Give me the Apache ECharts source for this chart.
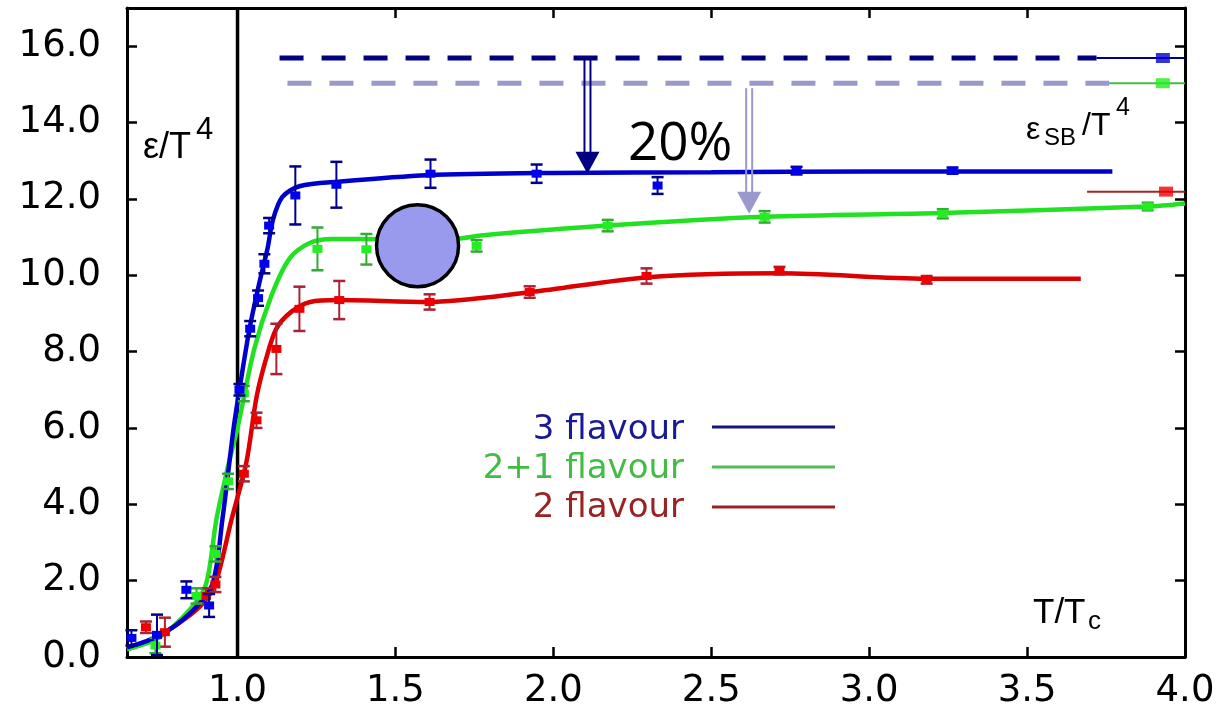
<!DOCTYPE html>
<html>
<head>
<meta charset="utf-8">
<script src="https://cdn.jsdelivr.net/npm/echarts@6/dist/echarts.min.js"></script>
<style>html,body{margin:0;padding:0;background:#fff;}#c{width:1219px;height:712px;}</style>
</head>
<body>
<div id="c"></div>
<script>
// ---- tick labels ----
const xTicks = [1.0, 1.5, 2.0, 2.5, 3.0, 3.5, 4.0];
const yTicks = [0, 2, 4, 6, 8, 10, 12, 14, 16];

// ---- fitted curves (T/Tc, eps/T^4) ----
const blueCurve = [[0.65,0.25],[0.75,0.55],[0.85,1.15],[0.92,1.9],[0.952,3.6],[0.987,5.96],[1.006,7.0],[1.038,8.6],[1.069,9.8],[1.095,10.7],[1.112,11.45],[1.142,12.05],[1.196,12.33],[1.32,12.45],[1.6,12.62],[2.0,12.68],[2.5,12.7],[3.0,12.72],[3.77,12.72]];
const greenCurve = [[0.65,0.2],[0.75,0.5],[0.85,1.25],[0.9,1.9],[0.933,3.6],[0.97,5.0],[1.0,6.0],[1.053,8.07],[1.107,9.46],[1.164,10.43],[1.23,10.85],[1.3,10.95],[1.41,10.95],[1.55,10.93],[1.7,10.96],[1.77,11.04],[2.17,11.3],[2.67,11.53],[3.23,11.63],[3.88,11.8],[4.0,11.88]];
const redCurve = [[0.65,0.2],[0.75,0.55],[0.85,1.1],[0.9,1.5],[0.933,2.0],[0.981,3.6],[1.028,5.1],[1.06,6.8],[1.09,7.8],[1.123,8.6],[1.17,9.04],[1.23,9.3],[1.32,9.35],[1.6,9.3],[1.93,9.56],[2.3,9.95],[2.72,10.05],[3.18,9.91],[3.67,9.91]];

// ---- lattice points [T/Tc, eps/T^4, error] ----
const bluePoints = [[0.664,0.5,0.2],[0.745,0.58,0.53],[0.838,1.76,0.22],[0.91,1.35,0.3],[1.006,7.0,0.15],[1.04,8.6,0.2],[1.065,9.4,0.2],[1.085,10.3,0.25],[1.1,11.3,0.2],[1.183,12.09,0.76],[1.313,12.37,0.6],[1.611,12.66,0.37],[1.947,12.66,0.24],[2.33,12.35,0.22],[2.77,12.74,0.1],[3.264,12.74,0.08]];
const greenPoints = [[0.74,0.3,0.2],[0.87,1.6,0.2],[0.93,2.7,0.2],[0.97,4.6,0.2],[1.02,6.9,0.2],[1.253,10.69,0.56],[1.408,10.68,0.4],[1.757,10.77,0.15],[2.172,11.3,0.15],[2.669,11.53,0.15],[3.233,11.61,0.12],[3.882,11.8,0.1]];
const redPoints = [[0.71,0.78,0.15],[0.77,0.65,0.38],[0.9,1.6,0.2],[0.93,1.9,0.2],[1.02,4.8,0.2],[1.06,6.2,0.2],[1.123,8.07,0.66],[1.196,9.12,0.58],[1.322,9.35,0.5],[1.608,9.3,0.2],[1.925,9.56,0.15],[2.295,9.98,0.2],[2.716,10.12,0.1],[3.182,9.88,0.1]];

// ---- Stefan-Boltzmann limits ----
const sbBlueDash = [[1.133,15.69],[3.72,15.69]];
const sbBlueLine = [[3.72,15.69],[4.0,15.69]];
const sbBlueMark = [[3.93,15.69]];
const sbGreenDash = [[1.158,15.03],[3.76,15.03]];
const sbGreenLine = [[3.76,15.03],[4.0,15.03]];
const sbGreenMark = [[3.93,15.03]];
const sbRedLine = [[3.69,12.19],[4.0,12.19]];
const sbRedMark = [[3.94,12.19]];

// ---- arrows [x, from, to] ----
const arrowDark = [[2.108,15.69,12.66]];
const arrowLight = [[2.62,14.9,11.61]];

// ---- highlighted circle ----
const circlePoint = [[1.57,10.77]];

const tcLine = [[1.0,0],[1.0,17]];

const chart = echarts.init(document.getElementById('c'), null, {renderer:'canvas'});

function errRender(barColor, markColor){
  return function(params, api){
    const x = api.value(0), y = api.value(1), e = api.value(2);
    const t = api.coord([x, y+e]), b = api.coord([x, y-e]), c = api.coord([x, y]);
    const cw = 6;
    return {type:'group', children:[
      {type:'line', shape:{x1:t[0],y1:t[1],x2:b[0],y2:b[1]}, style:{stroke:barColor,lineWidth:2}},
      {type:'line', shape:{x1:t[0]-cw,y1:t[1],x2:t[0]+cw,y2:t[1]}, style:{stroke:barColor,lineWidth:2.5}},
      {type:'line', shape:{x1:b[0]-cw,y1:b[1],x2:b[0]+cw,y2:b[1]}, style:{stroke:barColor,lineWidth:2.5}},
      {type:'rect', shape:{x:c[0]-5,y:c[1]-4,width:10,height:8}, style:{fill:markColor}}
    ]};
  };
}
function arrowRender(color){
  return function(params, api){
    const x = api.value(0), y0 = api.value(1), y1 = api.value(2);
    const s = api.coord([x, y0]), e = api.coord([x, y1]);
    const head = 22, hw = 12;
    return {type:'group', children:[
      {type:'line', shape:{x1:s[0]-3,y1:s[1],x2:e[0]-3,y2:e[1]-head+2}, style:{stroke:color,lineWidth:2}},
      {type:'line', shape:{x1:s[0]+3,y1:s[1],x2:e[0]+3,y2:e[1]-head+2}, style:{stroke:color,lineWidth:2}},
      {type:'polygon', shape:{points:[[e[0]-hw,e[1]-head],[e[0]+hw,e[1]-head],[e[0],e[1]]]}, style:{fill:color}}
    ]};
  };
}

const axisCommon = {
  axisLine:{show:true, onZero:false, lineStyle:{color:'#000', width:3}},
  splitLine:{show:false}
};
const labelFont = {fontFamily:'DejaVu Sans', fontSize:37, color:'#000'};

const option = {
  animation:false,
  backgroundColor:'#fff',
  grid:{left:127, right:34, top:8, bottom:55, containLabel:false},
  xAxis:[
    Object.assign({type:'value', min:0.65, max:4.0, position:'bottom',
      axisTick:{show:true, inside:true, length:10, lineStyle:{color:'#000', width:2.5}, customValues:xTicks},
      axisLabel:Object.assign({show:true, margin:16, customValues:xTicks, formatter:v=>Number(v).toFixed(1)}, labelFont)
    }, axisCommon),
    Object.assign({type:'value', min:0.65, max:4.0, position:'top',
      axisTick:{show:true, inside:true, length:10, lineStyle:{color:'#000', width:2.5}, customValues:xTicks},
      axisLabel:{show:false}
    }, axisCommon)
  ],
  yAxis:[
    Object.assign({type:'value', min:0, max:17, position:'left',
      axisTick:{show:true, inside:true, length:10, lineStyle:{color:'#000', width:2.5}, customValues:yTicks},
      axisLabel:Object.assign({show:true, margin:26, customValues:yTicks, formatter:v=>Number(v).toFixed(1)}, labelFont)
    }, axisCommon),
    Object.assign({type:'value', min:0, max:17, position:'right',
      axisTick:{show:true, inside:true, length:10, lineStyle:{color:'#000', width:2.5}, customValues:yTicks},
      axisLabel:{show:false}
    }, axisCommon)
  ],
  series:[
    {type:'line', data:tcLine, showSymbol:false, lineStyle:{color:'#000', width:3.5}, z:1, silent:true},
    {type:'line', data:sbBlueDash, showSymbol:false, lineStyle:{color:'#000080', width:5, type:[24,18]}, z:2},
    {type:'line', data:sbGreenDash, showSymbol:false, lineStyle:{color:'#9999cc', width:5, type:[24,18]}, z:2},
    {type:'line', data:sbBlueLine, showSymbol:false, lineStyle:{color:'#000080', width:2}, z:2},
    {type:'line', data:sbGreenLine, showSymbol:false, lineStyle:{color:'#44bb44', width:2}, z:2},
    {type:'line', data:sbRedLine, showSymbol:false, lineStyle:{color:'#aa2222', width:2}, z:2},
    {type:'scatter', data:sbBlueMark, symbol:'rect', symbolSize:[14,10], itemStyle:{color:'#0000cc'}, z:3},
    {type:'scatter', data:sbGreenMark, symbol:'rect', symbolSize:[14,10], itemStyle:{color:'#22ee22'}, z:3},
    {type:'scatter', data:sbRedMark, symbol:'rect', symbolSize:[14,10], itemStyle:{color:'#ee0000'}, z:3},
    {type:'line', data:redCurve, smooth:0.3, showSymbol:false, lineStyle:{color:'#dd0000', width:4.5}, z:4},
    {type:'line', data:greenCurve, smooth:0.3, showSymbol:false, lineStyle:{color:'#22e022', width:4.5}, z:4},
    {type:'line', data:blueCurve, smooth:0.3, showSymbol:false, lineStyle:{color:'#0000cc', width:4.5}, z:5},
    {type:'custom', data:redPoints, renderItem:errRender('#aa2233','#ee0000'), z:6},
    {type:'custom', data:greenPoints, renderItem:errRender('#33aa33','#22ee22'), z:6},
    {type:'custom', data:bluePoints, renderItem:errRender('#000088','#0000ee'), z:7},
    {type:'custom', data:arrowDark, renderItem:arrowRender('#000080'), z:8},
    {type:'custom', data:arrowLight, renderItem:arrowRender('#9999cc'), z:8},
    {type:'scatter', data:circlePoint, symbol:'circle', symbolSize:82, itemStyle:{color:'#9999ee', borderColor:'#000', borderWidth:3.5, opacity:1}, z:10}
  ],
  graphic:[
    {type:'text', z:20, style:{x:684, y:430, text:'3 flavour', textAlign:'right', textVerticalAlign:'middle', font:'34px "DejaVu Sans"', fill:'#1a1a99'}},
    {type:'text', z:20, style:{x:684, y:469, text:'2+1 flavour', textAlign:'right', textVerticalAlign:'middle', font:'34px "DejaVu Sans"', fill:'#44bb44'}},
    {type:'text', z:20, style:{x:684, y:508, text:'2 flavour', textAlign:'right', textVerticalAlign:'middle', font:'34px "DejaVu Sans"', fill:'#992222'}},
    {type:'line', z:20, shape:{x1:712,y1:427,x2:835,y2:427}, style:{stroke:'#151580', lineWidth:3}},
    {type:'line', z:20, shape:{x1:712,y1:467,x2:835,y2:467}, style:{stroke:'#55bb55', lineWidth:3}},
    {type:'line', z:20, shape:{x1:712,y1:507,x2:835,y2:507}, style:{stroke:'#992222', lineWidth:3}},
    {type:'text', z:20, style:{x:628, y:145, text:'20%', textAlign:'left', textVerticalAlign:'middle', font:'53px "Open Sans"', fill:'#000'}},
    {type:'text', z:20, style:{x:143, y:148, text:'ε/T', textAlign:'left', textVerticalAlign:'middle', font:'36px "Liberation Sans"', fill:'#000'}},
    {type:'text', z:20, style:{x:196, y:130, text:'4', textAlign:'left', textVerticalAlign:'middle', font:'31px "Liberation Sans"', fill:'#000'}},
    {type:'text', z:20, style:{x:1026, y:130, text:'ε', textAlign:'left', textVerticalAlign:'middle', font:'32px "Liberation Sans"', fill:'#000'}},
    {type:'text', z:20, style:{x:1044, y:138, text:'SB', textAlign:'left', textVerticalAlign:'middle', font:'24px "Liberation Sans"', fill:'#000'}},
    {type:'text', z:20, style:{x:1082, y:126, text:'/T', textAlign:'left', textVerticalAlign:'middle', font:'32px "Liberation Sans"', fill:'#000'}},
    {type:'text', z:20, style:{x:1116, y:108, text:'4', textAlign:'left', textVerticalAlign:'middle', font:'25px "Liberation Sans"', fill:'#000'}},
    {type:'text', z:20, style:{x:1033, y:613, text:'T/T', textAlign:'left', textVerticalAlign:'middle', font:'35px "Liberation Sans"', fill:'#000'}},
    {type:'text', z:20, style:{x:1088, y:622, text:'c', textAlign:'left', textVerticalAlign:'middle', font:'26px "Liberation Sans"', fill:'#000'}}
  ]
};
chart.setOption(option);
</script>
</body>
</html>
